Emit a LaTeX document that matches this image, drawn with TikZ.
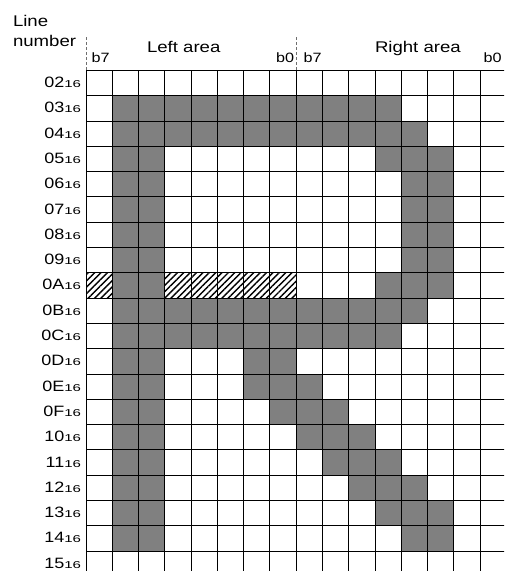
\documentclass[tikz,border=0pt]{standalone}
\usepackage{fontspec}
\setmainfont[FakeStretch=1.2]{Liberation Sans}
\newfontfamily\subfont[FakeStretch=1.5]{Liberation Sans}
\usetikzlibrary{patterns.meta}
\definecolor{cellgray}{RGB}{128,128,128}
\definecolor{dashgray}{RGB}{110,110,110}
\newcommand\gx{86}
\newcommand\gy{70.3}
\newcommand\cw{26.27}
\newcommand\ch{25.3}
\newcommand\grayrun[3]{\fill[cellgray] (\gx+#2*\cw, \gy+#1*\ch) rectangle (\gx+#3*\cw+\cw, \gy+#1*\ch+\ch);}
\newcommand\hatchrun[3]{\fill[hatchfill] (\gx+#2*\cw, \gy+#1*\ch) rectangle (\gx+#3*\cw+\cw, \gy+#1*\ch+\ch);}
\begin{document}
\begin{tikzpicture}[x=1pt,y=-1pt,
  every node/.style={inner sep=0pt, outer sep=0pt},
  hdr/.style={font=\fontsize{15.5}{17}\selectfont, anchor=base west},
  bitlbl/.style={font=\fontsize{13.5}{15}\selectfont, anchor=base west},
  rowlbl/.style={font=\fontsize{15}{17}\selectfont, anchor=base east},
  gridline/.style={black, line width=0.8pt},
  dashline/.style={dashgray, line width=0.9pt, dash pattern=on 3pt off 2pt},
  hatchfill/.style={pattern={Lines[angle=45,distance=4.5pt,line width=1.4pt]}, pattern color=black}]
\useasboundingbox (0,0) rectangle (504,571);
\fill[white] (0,0) rectangle (504,571);
\begin{scope}
\clip (0,0) rectangle (504,571);
% gray cells
\grayrun{1}{1}{11}
\grayrun{2}{1}{12}
\grayrun{3}{1}{2}\grayrun{3}{11}{13}
\foreach \r in {4,...,7} {\grayrun{\r}{1}{2}\grayrun{\r}{12}{13}}
\grayrun{8}{1}{2}\grayrun{8}{11}{13}
\hatchrun{8}{0}{0}\hatchrun{8}{3}{7}
\grayrun{9}{1}{12}
\grayrun{10}{1}{11}
\grayrun{11}{1}{2}\grayrun{11}{6}{7}
\grayrun{12}{1}{2}\grayrun{12}{6}{8}
\grayrun{13}{1}{2}\grayrun{13}{7}{9}
\grayrun{14}{1}{2}\grayrun{14}{8}{10}
\grayrun{15}{1}{2}\grayrun{15}{9}{11}
\grayrun{16}{1}{2}\grayrun{16}{10}{12}
\grayrun{17}{1}{2}\grayrun{17}{11}{13}
\grayrun{18}{1}{2}\grayrun{18}{12}{13}
% grid
\foreach \i in {0,...,16}
  \draw[gridline] (\gx+\i*\cw, \gy) -- (\gx+\i*\cw, \gy+20*\ch);
\foreach \j in {0,...,20}
  \draw[gridline] (\gx, \gy+\j*\ch) -- (\gx+16*\cw, \gy+\j*\ch);
\end{scope}
% dashed dividers above the grid
\coordinate (dA1) at (\gx,37);
\coordinate (dA2) at (\gx,\gy);
\coordinate (dB1) at (\gx+8*\cw,37);
\coordinate (dB2) at (\gx+8*\cw,\gy);
\draw[dashline] (dA1) -- (dA2);
\draw[dashline] (dB1) -- (dB2);
% headers
\node[hdr] (hline) at (13,26) {Line};
\node[hdr] (hnum) at (13,46) {number};
\node[hdr] (hleft) at (147,52) {Left area};
\node[hdr] (hright) at (375,52) {Right area};
\node[bitlbl] (lb7) at (91.5,62) {b7};
\node[bitlbl] (lb0) at (276,62) {b0};
\node[bitlbl] (rb7) at (303.5,62) {b7};
\node[bitlbl] (rb0) at (483.5,62) {b0};
% row labels
\foreach \lab [count=\r from 0] in {02,03,04,05,06,07,08,09,0A,0B,0C,0D,0E,0F,10,11,12,13,14,15}
  \node[rowlbl] (row\lab) at (81, \gy+\r*\ch+0.5*\ch+4.6) {\lab{\subfont\fontsize{10}{11}\selectfont 16}};
\end{tikzpicture}
\end{document}
